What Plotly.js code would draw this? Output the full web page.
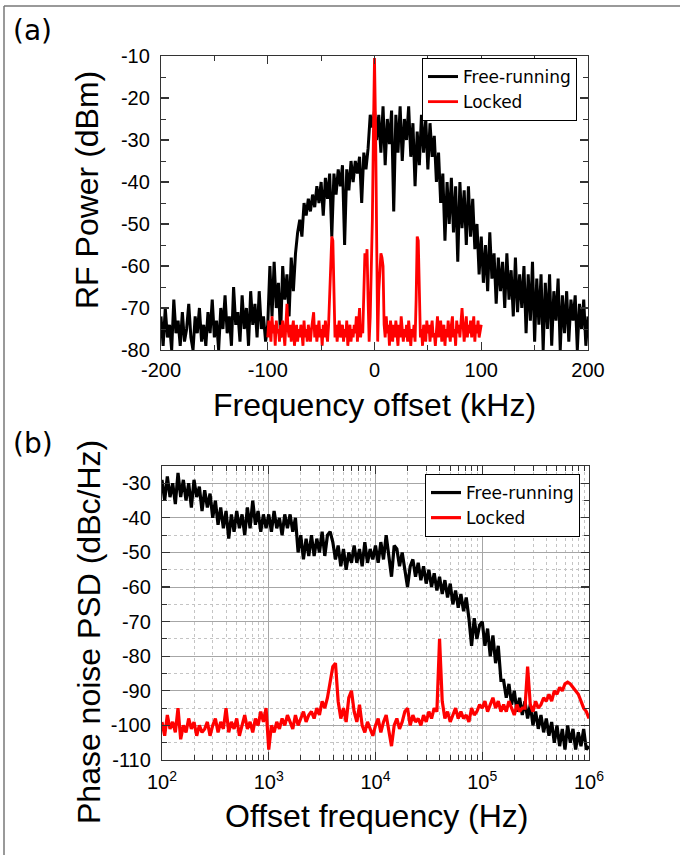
<!DOCTYPE html>
<html><head><meta charset="utf-8">
<script src="https://cdn.plot.ly/plotly-3.0.1.min.js"></script>
<style>html,body{margin:0;padding:0;background:#fff;}#chart{width:680px;height:855px;}</style>
</head><body><div id="chart"></div>
<script>
// ---------- Panel (a): RF spectrum ----------
const rfFreeStartKHz = -200, rfFreeStepKHz = 2;
const rfFreeRunning = [
 -72,-79,-70,-77,-74,-80,-68,-76,-73,-79,
 -71,-78,-75,-69,-77,-80,-72,-76,-70,-78,
 -74,-79,-71,-76,-68,-77,-73,-80,-70,-75,
 -67,-76,-72,-79,-65,-74,-71,-78,-67,-75,
 -70,-79,-66,-74,-69,-77,-66,-75,-72,-78,
 -74,-60,-72,-59,-70,-64,-77,-60,-68,-62,
 -72,-58,-66,-57,-52,-49,-53,-45,-48,-44,
 -47,-43,-46,-41,-45,-40,-48,-39,-44,-38,
 -53,-38,-43,-37,-41,-36,-55,-37,-42,-35,
 -40,-35,-38,-34,-45,-33,-37,-32,-24,-27,
 -23,-30,-24,-33,-22,-36,-25,-31,-23,-47,
 -24,-33,-22,-35,-25,-30,-22,-34,-26,-41,
 -28,-36,-24,-33,-25,-37,-26,-34,-29,-40,
 -33,-45,-38,-54,-40,-50,-39,-52,-41,-59,
 -40,-51,-42,-55,-41,-53,-44,-56,-50,-62,
 -53,-64,-55,-66,-52,-63,-57,-69,-58,-66,
 -59,-70,-57,-68,-61,-72,-58,-71,-62,-70,
 -60,-76,-62,-73,-59,-78,-63,-74,-62,-80,
 -64,-75,-62,-79,-66,-73,-63,-80,-67,-76,
 -66,-78,-68,-73,-67,-80,-69,-75,-68,-79,
 -72
];
const rfLockedStartKHz = -100, rfLockedStepKHz = 1;
const rfLocked = [
 -77,-73,-75,-78,-72,-76,-74,-79,-73,-76,
 -75,-78,-74,-77,-73,-76,-79,-74,-69,-75,
 -77,-74,-78,-75,-73,-79,-76,-74,-78,-75,
 -77,-74,-76,-79,-73,-77,-75,-78,-74,-76,
 -78,-75,-73,-71,-77,-74,-78,-76,-73,-77,
 -75,-79,-74,-77,-73,-76,-78,-74,-66,-57,
 -53,-54,-66,-77,-74,-78,-75,-73,-77,-76,
 -74,-78,-75,-77,-73,-79,-76,-74,-78,-75,
 -77,-74,-76,-72,-78,-75,-70,-77,-74,-76,
 -66,-57,-60,-56,-68,-78,-72,-62,-49,-28,
 -10.5,-27,-50,-78,-66,-61,-57,-58,-60,-74,
 -77,-72,-76,-74,-79,-73,-76,-78,-74,-77,
 -73,-76,-79,-74,-77,-72,-76,-78,-75,-77,
 -74,-78,-73,-76,-79,-75,-77,-74,-78,-68,
 -53,-54,-70,-77,-75,-79,-74,-76,-78,-73,
 -76,-74,-78,-75,-73,-77,-76,-79,-74,-72,
 -77,-75,-73,-78,-76,-74,-79,-75,-77,-73,
 -76,-78,-74,-72,-77,-75,-79,-73,-76,-74,
 -77,-73,-70,-74,-78,-75,-72,-77,-74,-76,
 -73,-77,-75,-72,-78,-74,-76,-73,-77,-75,
 -74
];

// ---------- Panel (b): phase noise PSD ----------
// sampling grid in log10(Hz)
const psdLogStart = 2, psdLogStep = 0.025;
const psdFreeRunning = [
 -29,-35,-28,-34,-30,-36,-27,-34,
 -29,-35,-30,-37,-29,-34,-31,-38,
 -32,-37,-33,-40,-35,-42,-37,-43,
 -38,-46,-39,-44,-38,-43,-39,-45,
 -37,-43,-35,-42,-38,-44,-39,-43,
 -39,-44,-38,-43,-40,-45,-39,-43,
 -39,-44,-40,-50,-45,-52,-46,-51,
 -45,-51,-46,-50,-44,-51,-45,-44,
 -47,-52,-48,-54,-49,-55,-50,-53,
 -48,-53,-49,-54,-47,-53,-49,-52,
 -48,-53,-47,-52,-45,-51,-57,-48,
 -49,-54,-50,-55,-60,-54,-52,-57,
 -53,-58,-54,-59,-55,-60,-56,-61,
 -57,-62,-58,-63,-59,-65,-61,-66,
 -62,-67,-63,-69,-77,-69,-75,-71,
 -70,-77,-72,-80,-74,-82,-77,-87,
 -87,-92,-88,-94,-90,-96,-92,-97,
 -93,-98,-94,-100,-96,-101,-97,-102,
 -98,-103,-99,-105,-100,-106,-101,-107,
 -100,-105,-101,-107,-102,-106,-101,-107,
 -106
];
const psdLocked = [
 -99,-103,-97,-101,-99,-102,-95,-104,
 -100,-102,-98,-101,-99,-103,-100,-102,
 -101,-99,-103,-100,-98,-102,-99,-101,
 -95,-102,-99,-101,-98,-103,-100,-97,
 -101,-99,-102,-98,-100,-96,-99,-95,
 -107,-100,-102,-99,-101,-98,-100,-97,
 -99,-101,-97,-100,-98,-96,-99,-97,
 -96,-98,-95,-97,-93,-95,-92,-88,
 -83,-82,-93,-98,-95,-99,-92,-90,
 -96,-99,-94,-100,-102,-99,-101,-103,
 -100,-98,-102,-99,-97,-101,-106,-100,
 -98,-101,-99,-96,-95,-100,-97,-99,
 -98,-100,-97,-99,-96,-98,-95,-96,
 -75,-93,-98,-96,-99,-97,-95,-98,
 -96,-98,-97,-99,-95,-97,-96,-94,
 -95,-93,-96,-94,-92,-95,-93,-96,
 -94,-96,-93,-95,-97,-94,-96,-95,
 -95,-83,-94,-96,-93,-95,-94,-92,
 -93,-91,-93,-90,-91,-89,-90,-88,
 -87.5,-88,-89,-90,-91,-93,-95,-96,
 -98
];
const seriesNames = ['Free-running', 'Locked'];
const rfTickVals = [-200, -100, 0, 100, 200];
const rfTickText = ['-200', '-100', '0', '100', '200'];
const rfPowerTickVals = [-80, -70, -60, -50, -40, -30, -20, -10];
const rfPowerTickText = ['-80', '-70', '-60', '-50', '-40', '-30', '-20', '-10'];
const psdTickVals = [1e2, 1e3, 1e4, 1e5, 1e6];
const psdTickText = ['10<sup>2</sup>', '10<sup>3</sup>', '10<sup>4</sup>', '10<sup>5</sup>', '10<sup>6</sup>'];
const psdLevelTickVals = [-110, -100, -90, -80, -70, -60, -50, -40, -30];
const psdLevelTickText = ['-110', '-100', '-90', '-80', '-70', '-60', '-50', '-40', '-30'];

// ---------- build ----------
const W = 680, H = 855;
const px = v => v / W, py = v => (H - v) / H;
const rfFreeX = rfFreeRunning.map((_, i) => rfFreeStartKHz + i * rfFreeStepKHz);
const rfLockX = rfLocked.map((_, i) => rfLockedStartKHz + i * rfLockedStepKHz);
const psdX = psdFreeRunning.map((_, i) => Math.pow(10, psdLogStart + i * psdLogStep));

const TXT = 'Liberation Sans, Arial, sans-serif';
const LEG = 'DejaVu Sans, Verdana, sans-serif';

const traces = [
  {x: rfFreeX, y: rfFreeRunning, type: 'scatter', mode: 'lines', name: seriesNames[0],
   line: {color: '#000', width: 3}, xaxis: 'x', yaxis: 'y', legend: 'legend'},
  {x: rfLockX, y: rfLocked, type: 'scatter', mode: 'lines', name: seriesNames[1],
   line: {color: '#ff0000', width: 2.8}, xaxis: 'x', yaxis: 'y', legend: 'legend'},
  {x: psdX, y: psdFreeRunning, type: 'scatter', mode: 'lines', name: seriesNames[0],
   line: {color: '#000', width: 3.2}, xaxis: 'x2', yaxis: 'y2', legend: 'legend2'},
  {x: psdX, y: psdLocked, type: 'scatter', mode: 'lines', name: seriesNames[1],
   line: {color: '#ff0000', width: 3.2}, xaxis: 'x2', yaxis: 'y2', legend: 'legend2'}
];

const ax = {
  showline: true, linecolor: '#333', linewidth: 1.2, mirror: 'ticks',
  ticks: 'inside', ticklen: 8, tickwidth: 1.2, tickcolor: '#333',
  zeroline: false, showgrid: false,
  tickfont: {family: TXT, size: 20, color: '#000'}
};
const minorA = {ticks: 'inside', ticklen: 5, tickwidth: 1, tickcolor: '#333'};

const layout = {
  width: W, height: H,
  margin: {l: 0, r: 0, t: 0, b: 0},
  paper_bgcolor: '#fff', plot_bgcolor: '#fff',
  showlegend: true,
  xaxis: Object.assign({}, ax, {domain: [px(161), px(588)], range: [-200, 200],
    tickmode: 'array', tickvals: rfTickVals, ticktext: rfTickText, anchor: 'y', ticklabelstandoff: 2,
    minor: Object.assign({}, minorA, {dtick: 50, tick0: 0})}),
  yaxis: Object.assign({}, ax, {domain: [py(350), py(56)], range: [-80, -10],
    tickmode: 'array', tickvals: rfPowerTickVals, ticktext: rfPowerTickText, anchor: 'x', ticklabelstandoff: 6,
    minor: Object.assign({}, minorA, {dtick: 5, tick0: 0})}),
  xaxis2: Object.assign({}, ax, {type: 'log', domain: [px(162), px(589)], range: [2, 6],
    tickmode: 'array', tickvals: psdTickVals, ticktext: psdTickText, anchor: 'y2',
    showgrid: true, gridcolor: '#a6a6a6', gridwidth: 1, ticklabelstandoff: 4,
    minor: Object.assign({}, minorA, {dtick: 'D1', showgrid: true, gridcolor: '#c4c4c4', griddash: 'dot', gridwidth: 1})}),
  yaxis2: Object.assign({}, ax, {domain: [py(760), py(466)], range: [-110, -25],
    tickmode: 'array', tickvals: psdLevelTickVals, ticktext: psdLevelTickText, anchor: 'x2',
    showgrid: true, gridcolor: '#a6a6a6', gridwidth: 1, ticklabelstandoff: 6,
    minor: Object.assign({}, minorA, {dtick: 5, tick0: 0, showgrid: true, gridcolor: '#c4c4c4', griddash: 'dot', gridwidth: 1})}),
  legend: {x: px(422), y: py(58), xanchor: 'left', yanchor: 'top',
    bgcolor: '#fff', bordercolor: '#000', borderwidth: 1,
    font: {family: LEG, size: 17, color: '#000'}, tracegroupgap: 0},
  legend2: {x: px(425), y: py(474), xanchor: 'left', yanchor: 'top',
    bgcolor: '#fff', bordercolor: '#000', borderwidth: 1,
    font: {family: LEG, size: 17, color: '#000'}, tracegroupgap: 0},
  shapes: [
    {type: 'line', xref: 'paper', yref: 'paper', x0: px(4), x1: 1, y0: py(6), y1: py(6), line: {color: '#777', width: 1.5}},
    {type: 'line', xref: 'paper', yref: 'paper', x0: px(4), x1: px(4), y0: 0, y1: py(6), line: {color: '#777', width: 1.5}}
  ],
  annotations: [
    {text: '(a)', xref: 'paper', yref: 'paper', x: px(11), y: py(30), xanchor: 'left', yanchor: 'middle', showarrow: false, font: {family: LEG, size: 28, color: '#000'}},
    {text: '(b)', xref: 'paper', yref: 'paper', x: px(11), y: py(443), xanchor: 'left', yanchor: 'middle', showarrow: false, font: {family: LEG, size: 28, color: '#000'}},
    {text: 'Frequency offset (kHz)', xref: 'paper', yref: 'paper', x: px(374), y: py(405), xanchor: 'center', yanchor: 'middle', showarrow: false, font: {family: TXT, size: 32, color: '#000'}},
    {text: 'RF Power (dBm)', xref: 'paper', yref: 'paper', x: px(87), y: py(190), xanchor: 'center', yanchor: 'middle', textangle: -90, showarrow: false, font: {family: TXT, size: 32, color: '#000'}},
    {text: 'Offset frequency (Hz)', xref: 'paper', yref: 'paper', x: px(377), y: py(816), xanchor: 'center', yanchor: 'middle', showarrow: false, font: {family: TXT, size: 32, color: '#000'}},
    {text: 'Phase noise PSD (dBc/Hz)', xref: 'paper', yref: 'paper', x: px(89), y: py(632), xanchor: 'center', yanchor: 'middle', textangle: -90, showarrow: false, font: {family: TXT, size: 32, color: '#000'}}
  ]
};

Plotly.newPlot('chart', traces, layout, {displayModeBar: false, staticPlot: true});
</script>
</body></html>
